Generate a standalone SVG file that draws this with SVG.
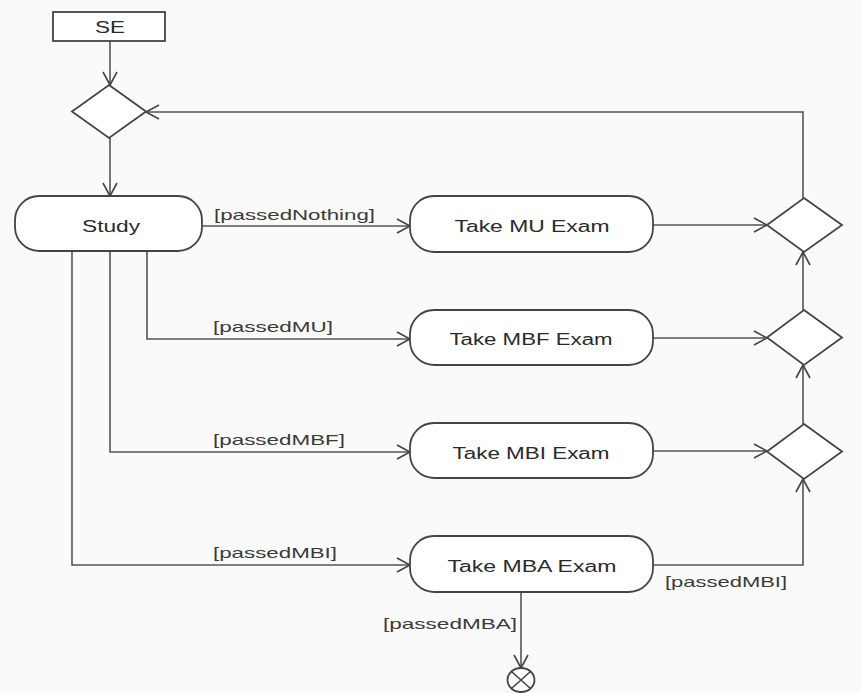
<svg xmlns="http://www.w3.org/2000/svg" width="861" height="693" viewBox="0 0 861 693">
<defs>
<marker id="arr" markerUnits="userSpaceOnUse" markerWidth="30" markerHeight="30" viewBox="-15 -15 30 30" refX="0" refY="0" orient="auto">
<path d="M-13,-7 L0,0 L-13,7" fill="none" stroke="#444" stroke-width="1.6"/>
</marker>
</defs>
<style>
.bg{fill:#fafafa}
.node{fill:#ffffff;stroke:#444;stroke-width:1.8}
.lbl{font-family:"Liberation Sans",Arial,sans-serif;font-size:16px;fill:#2a2a2a;text-anchor:middle}
.g{font-family:"Liberation Sans",Arial,sans-serif;font-size:15px;fill:#3a3a3a}
.c{fill:none;stroke:#555;stroke-width:1.6}
</style>
<rect class="bg" x="0" y="0" width="861" height="693"/>
<g id="connectors">
<path class="c" d="M110,41 L110,85" marker-end="url(#arr)"/>
<path class="c" d="M110,138 L110,196" marker-end="url(#arr)"/>
<path class="c" d="M202,226 L410,226" marker-end="url(#arr)"/>
<path class="c" d="M147,251 L147,339 L410,339" marker-end="url(#arr)"/>
<path class="c" d="M110,251 L110,452 L410,452" marker-end="url(#arr)"/>
<path class="c" d="M72,251 L72,565 L410,565" marker-end="url(#arr)"/>
<path class="c" d="M653,225 L767,225" marker-end="url(#arr)"/>
<path class="c" d="M653,338 L767,338" marker-end="url(#arr)"/>
<path class="c" d="M653,451 L767,451" marker-end="url(#arr)"/>
<path class="c" d="M653,565 L803,565 L803,479" marker-end="url(#arr)"/>
<path class="c" d="M803,424 L803,365" marker-end="url(#arr)"/>
<path class="c" d="M803,310 L803,252" marker-end="url(#arr)"/>
<path class="c" d="M803,198 L803,112 L146,112" marker-end="url(#arr)"/>
<path class="c" d="M521,592 L521,668" marker-end="url(#arr)"/>
<text class="g" x="214" y="220" textLength="161" lengthAdjust="spacingAndGlyphs">[passedNothing]</text>
<text class="g" x="213" y="332" textLength="120" lengthAdjust="spacingAndGlyphs">[passedMU]</text>
<text class="g" x="213" y="445" textLength="132" lengthAdjust="spacingAndGlyphs">[passedMBF]</text>
<text class="g" x="213" y="558" textLength="124" lengthAdjust="spacingAndGlyphs">[passedMBI]</text>
<text class="g" x="665" y="587" textLength="122" lengthAdjust="spacingAndGlyphs">[passedMBI]</text>
<text class="g" x="383" y="629" textLength="134" lengthAdjust="spacingAndGlyphs">[passedMBA]</text>
</g>
<g id="se">
<rect class="node" x="53" y="12" width="112" height="29"/>
<text class="lbl" x="110" y="33" textLength="30" lengthAdjust="spacingAndGlyphs">SE</text>
</g>
<g id="merge">
<path class="node" d="M109,85 L146,111.5 L109,138 L72,111.5 Z"/>
</g>
<g id="study">
<rect class="node" x="15" y="196" width="187" height="55" rx="24"/>
<text class="lbl" x="111" y="232" textLength="58" lengthAdjust="spacingAndGlyphs">Study</text>
</g>
<g id="mu">
<rect class="node" x="410" y="196" width="243" height="56" rx="24"/>
<text class="lbl" x="532" y="232" textLength="155" lengthAdjust="spacingAndGlyphs">Take MU Exam</text>
</g>
<g id="mbf">
<rect class="node" x="410" y="310" width="243" height="55" rx="24"/>
<text class="lbl" x="531" y="345" textLength="163" lengthAdjust="spacingAndGlyphs">Take MBF Exam</text>
</g>
<g id="mbi">
<rect class="node" x="410" y="423" width="243" height="55" rx="24"/>
<text class="lbl" x="531" y="459" textLength="157" lengthAdjust="spacingAndGlyphs">Take MBI Exam</text>
</g>
<g id="mba">
<rect class="node" x="410" y="536" width="243" height="56" rx="24"/>
<text class="lbl" x="532" y="572" textLength="169" lengthAdjust="spacingAndGlyphs">Take MBA Exam</text>
</g>
<g id="d1"><path class="node" d="M804,198 L842,225 L804,252 L767,225 Z"/></g>
<g id="d2"><path class="node" d="M804,310 L842,337.5 L804,365 L767,337.5 Z"/></g>
<g id="d3"><path class="node" d="M804,424 L842,451.5 L804,479 L767,451.5 Z"/></g>
<g id="end">
<ellipse class="node" cx="521" cy="680" rx="13.5" ry="12"/>
<path d="M511.5,671.5 L530.5,688.5 M530.5,671.5 L511.5,688.5" stroke="#444" stroke-width="1.6"/>
</g>
</svg>
